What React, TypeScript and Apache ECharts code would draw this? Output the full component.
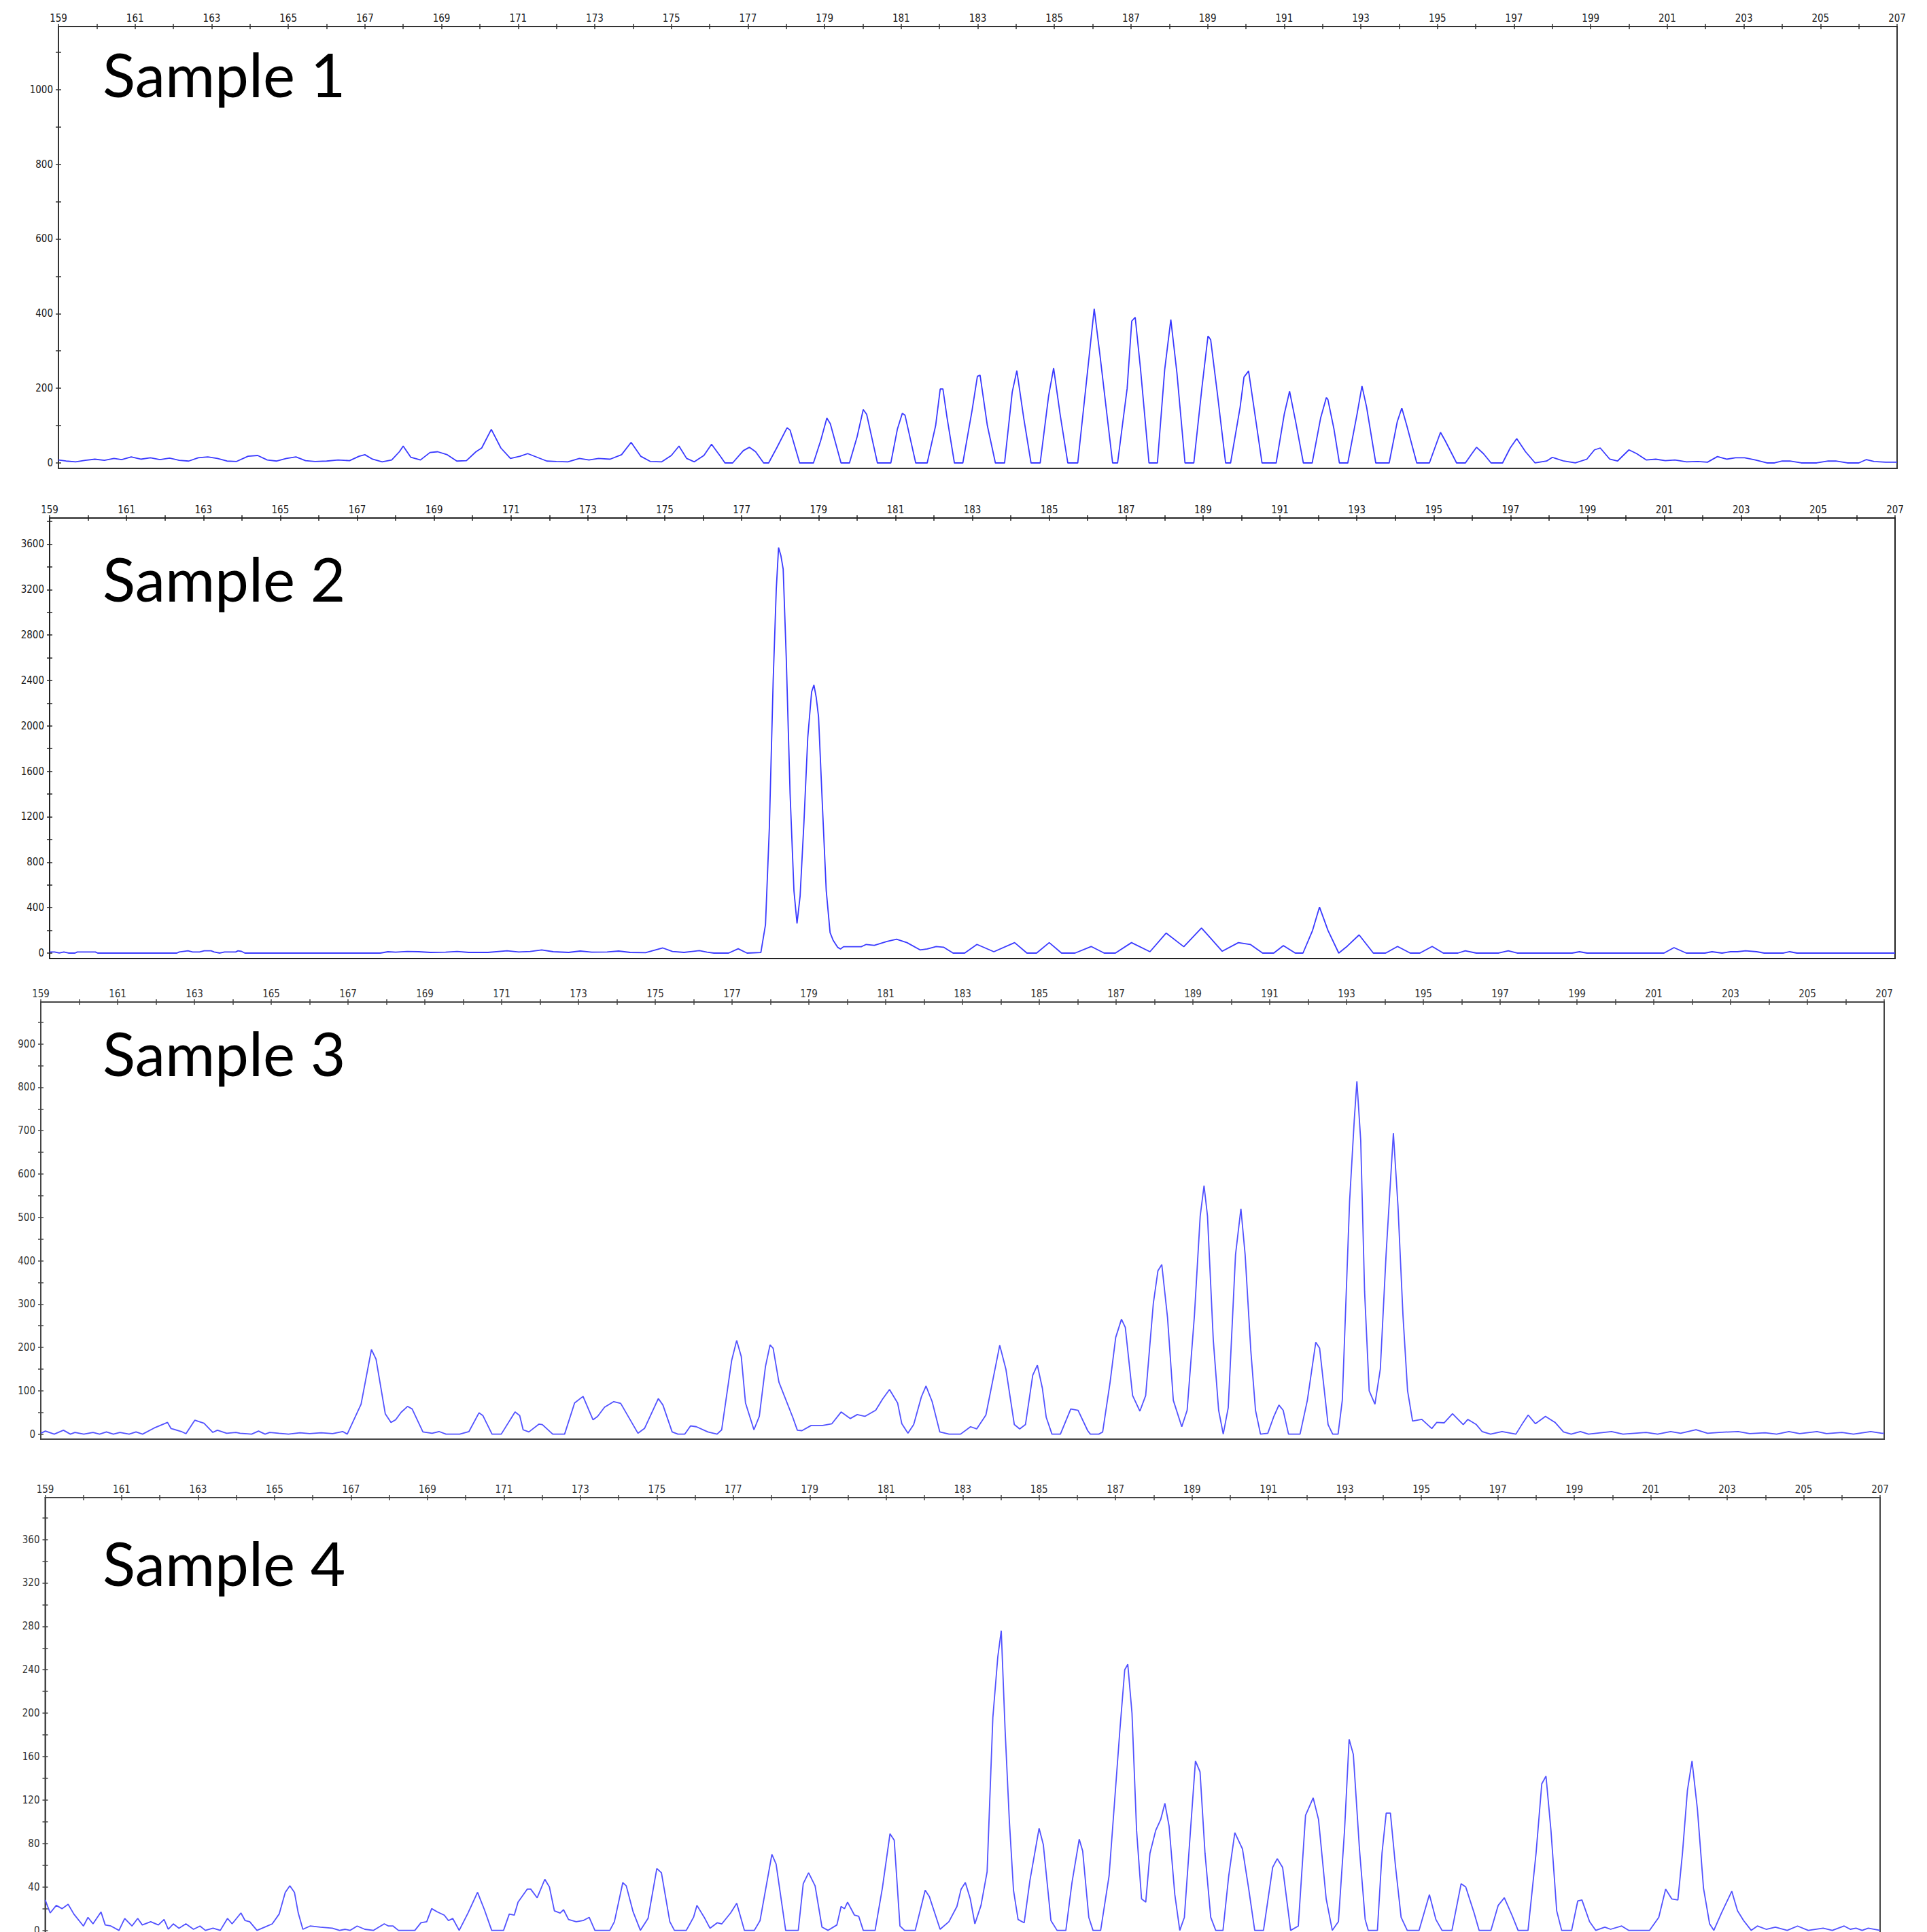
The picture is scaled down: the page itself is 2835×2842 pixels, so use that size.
import React, { useEffect, useRef } from "react";
import * as echarts from "echarts";

// ---------- axis ticks / labels ----------
const BP_MIN = 159;
const BP_MAX = 207;
const BP_LABELS = [159, 161, 163, 165, 167, 169, 171, 173, 175, 177, 179, 181, 183, 185, 187, 189, 191, 193, 195, 197, 199, 201, 203, 205, 207];
const BP_TICKS = [159, 160, 161, 162, 163, 164, 165, 166, 167, 168, 169, 170, 171, 172, 173, 174, 175, 176, 177, 178, 179, 180, 181, 182, 183, 184, 185, 186, 187, 188, 189, 190, 191, 192, 193, 194, 195, 196, 197, 198, 199, 200, 201, 202, 203, 204, 205, 206, 207];

const TITLES = ["Sample 1", "Sample 2", "Sample 3", "Sample 4"];

const Y_LABELS_1 = [0, 200, 400, 600, 800, 1000];
const Y_TICKS_1 = [0, 100, 200, 300, 400, 500, 600, 700, 800, 900, 1000, 1100];
const Y_LABELS_2 = [0, 400, 800, 1200, 1600, 2000, 2400, 2800, 3200, 3600];
const Y_TICKS_2 = [0, 200, 400, 600, 800, 1000, 1200, 1400, 1600, 1800, 2000, 2200, 2400, 2600, 2800, 3000, 3200, 3400, 3600, 3800];
const Y_LABELS_3 = [0, 100, 200, 300, 400, 500, 600, 700, 800, 900];
const Y_TICKS_3 = [0, 50, 100, 150, 200, 250, 300, 350, 400, 450, 500, 550, 600, 650, 700, 750, 800, 850, 900, 950];
const Y_LABELS_4 = [0, 40, 80, 120, 160, 200, 240, 280, 320, 360];
const Y_TICKS_4 = [0, 20, 40, 60, 80, 100, 120, 140, 160, 180, 200, 220, 240, 260, 280, 300, 320, 340, 360, 380];

// ---------- traces: [size (bp), signal] ----------
const SAMPLE_1 = [
  [159.0, 8], [159.2, 5], [159.45, 3], [159.7, 7], [159.95, 10], [160.2, 7], [160.45, 12], [160.65, 9], [160.9, 16], [161.15, 10],
  [161.4, 14], [161.65, 9], [161.9, 13], [162.15, 7], [162.4, 5], [162.65, 14], [162.9, 16], [163.15, 12], [163.4, 5], [163.65, 4],
  [163.95, 18], [164.2, 20], [164.45, 8], [164.7, 5], [164.95, 12], [165.2, 16], [165.45, 6], [165.7, 4], [166.0, 5], [166.3, 8],
  [166.6, 6], [166.85, 18], [167.0, 22], [167.2, 10], [167.45, 3], [167.7, 8], [167.9, 30], [168.0, 45], [168.2, 15], [168.45, 8],
  [168.7, 28], [168.9, 30], [169.15, 22], [169.4, 5], [169.65, 6], [169.9, 30], [170.05, 40], [170.3, 90], [170.55, 40], [170.8, 12],
  [171.05, 18], [171.25, 25], [171.5, 15], [171.75, 5], [172.0, 4], [172.3, 3], [172.6, 12], [172.85, 8], [173.1, 12], [173.4, 10],
  [173.7, 22], [173.95, 55], [174.2, 18], [174.45, 4], [174.75, 3], [175.0, 20], [175.2, 45], [175.4, 12], [175.6, 3], [175.85, 20],
  [176.05, 50], [176.3, 15], [176.4, 0], [176.6, 0], [176.88, 33], [177.04, 42], [177.2, 30], [177.41, 0], [177.54, 0], [177.75, 40],
  [178.02, 94], [178.1, 88], [178.35, 0], [178.71, 0], [178.9, 60], [179.06, 120], [179.15, 105], [179.43, 0], [179.65, 0], [179.85, 70],
  [180.01, 143], [180.1, 130], [180.38, 0], [180.73, 0], [180.9, 90], [181.03, 133], [181.1, 128], [181.38, 0], [181.68, 0], [181.9, 100],
  [182.02, 198], [182.09, 198], [182.2, 120], [182.39, 0], [182.61, 0], [182.85, 140], [182.99, 232], [183.06, 235], [183.25, 100], [183.46, 0],
  [183.7, 0], [183.9, 190], [184.02, 247], [184.2, 120], [184.39, 0], [184.63, 0], [184.85, 180], [184.98, 254], [185.15, 130], [185.35, 0],
  [185.61, 0], [185.85, 230], [186.04, 413], [186.2, 280], [186.52, 0], [186.65, 0], [186.9, 200], [187.02, 380], [187.11, 390], [187.25, 250],
  [187.47, 0], [187.69, 0], [187.88, 250], [188.04, 384], [188.2, 240], [188.41, 0], [188.64, 0], [188.85, 200], [189.01, 340], [189.08, 330],
  [189.25, 190], [189.47, 0], [189.6, 0], [189.85, 150], [189.95, 230], [190.07, 246], [190.25, 120], [190.42, 0], [190.79, 0], [191.0, 130],
  [191.14, 192], [191.3, 110], [191.5, 0], [191.73, 0], [191.95, 120], [192.1, 175], [192.14, 170], [192.3, 90], [192.44, 0], [192.66, 0],
  [192.9, 130], [193.03, 206], [193.15, 150], [193.39, 0], [193.74, 0], [193.95, 110], [194.07, 147], [194.2, 100], [194.46, 0], [194.79, 0],
  [195.08, 82], [195.2, 60], [195.5, 0], [195.73, 0], [195.9, 25], [196.02, 42], [196.2, 25], [196.4, 0], [196.7, 0], [196.9, 40],
  [197.07, 65], [197.3, 30], [197.55, 0], [197.85, 5], [198.0, 15], [198.3, 5], [198.6, 0], [198.9, 10], [199.1, 35], [199.25, 40],
  [199.5, 10], [199.7, 5], [200.0, 35], [200.2, 25], [200.45, 8], [200.7, 10], [200.95, 6], [201.2, 8], [201.5, 3], [201.8, 4],
  [202.05, 2], [202.31, 17], [202.55, 10], [202.78, 14], [203.02, 14], [203.3, 8], [203.6, 0], [203.8, 0], [204.0, 5], [204.2, 5],
  [204.5, 0], [204.9, 0], [205.2, 5], [205.4, 5], [205.7, 0], [206.0, 0], [206.2, 9], [206.4, 4], [206.7, 2], [207.0, 2],
];

const SAMPLE_2 = [
  [159.0, 10], [159.13, 10], [159.25, 0], [159.37, 10], [159.49, 0], [159.66, 0], [159.72, 10], [160.19, 10], [160.25, 0], [162.31, 0],
  [162.37, 10], [162.6, 20], [162.72, 10], [162.9, 10], [163.02, 20], [163.2, 20], [163.28, 10], [163.43, 0], [163.55, 10], [163.84, 10],
  [163.9, 20], [163.99, 15], [164.08, 0], [167.6, 0], [167.8, 12], [168.0, 8], [168.3, 14], [168.6, 12], [168.9, 6], [169.3, 8],
  [169.6, 14], [169.9, 6], [170.4, 6], [170.9, 20], [171.2, 10], [171.5, 14], [171.8, 28], [172.1, 12], [172.5, 6], [172.8, 18],
  [173.1, 8], [173.5, 10], [173.8, 18], [174.1, 6], [174.5, 4], [174.95, 45], [175.2, 14], [175.5, 6], [175.9, 22], [176.1, 8],
  [176.28, 0], [176.66, 0], [176.91, 38], [177.14, 0], [177.5, 5], [177.62, 250], [177.72, 1100], [177.82, 2400], [177.9, 3200], [177.96, 3570],
  [178.02, 3500], [178.08, 3380], [178.16, 2600], [178.26, 1400], [178.36, 550], [178.44, 261], [178.52, 500], [178.62, 1150], [178.72, 1900], [178.82, 2300],
  [178.88, 2360], [178.94, 2250], [179.0, 2080], [179.1, 1300], [179.2, 550], [179.3, 180], [179.38, 112], [179.5, 50], [179.57, 36], [179.65, 56],
  [180.11, 56], [180.24, 76], [180.45, 68], [180.78, 102], [181.03, 122], [181.3, 92], [181.64, 28], [181.83, 36], [182.06, 58], [182.25, 52],
  [182.5, 0], [182.8, 0], [183.12, 76], [183.56, 12], [184.1, 92], [184.42, 0], [184.67, 0], [185.0, 92], [185.32, 0], [185.67, 0],
  [186.09, 58], [186.43, 0], [186.72, 0], [187.14, 92], [187.62, 12], [188.04, 176], [188.5, 56], [188.96, 221], [189.5, 16], [189.92, 92],
  [190.23, 76], [190.55, 0], [190.84, 0], [191.09, 66], [191.4, 0], [191.6, 0], [191.85, 200], [192.03, 405], [192.25, 200], [192.53, 0],
  [192.75, 60], [193.06, 160], [193.43, 0], [193.75, 0], [194.06, 58], [194.39, 0], [194.64, 0], [194.96, 58], [195.25, 0], [195.63, 0],
  [195.82, 20], [196.11, 0], [196.69, 0], [196.94, 20], [197.17, 0], [198.6, 0], [198.79, 12], [198.99, 0], [200.99, 0], [201.25, 48],
  [201.57, 0], [202.05, 0], [202.24, 12], [202.5, 0], [202.72, 12], [202.9, 12], [203.11, 20], [203.4, 12], [203.6, 0], [204.1, 0],
  [204.26, 12], [204.45, 0], [207.0, 0],
];

const SAMPLE_3 = [
  [159.0, 2], [159.12, 7], [159.35, 0], [159.59, 9], [159.77, 0], [159.89, 4], [160.12, 0], [160.36, 4], [160.53, 0], [160.71, 5],
  [160.89, 0], [161.06, 4], [161.3, 0], [161.48, 5], [161.65, 0], [161.95, 14], [162.3, 27], [162.39, 13], [162.66, 6], [162.78, 1],
  [163.01, 32], [163.25, 25], [163.48, 4], [163.6, 9], [163.84, 2], [164.08, 4], [164.19, 2], [164.49, 0], [164.67, 7], [164.84, 0],
  [164.96, 4], [165.2, 2], [165.45, 0], [165.75, 3], [166.0, 1], [166.3, 3], [166.6, 1], [166.86, 6], [166.98, 0], [167.34, 69],
  [167.61, 195], [167.73, 173], [167.97, 47], [168.12, 27], [168.24, 33], [168.38, 50], [168.55, 64], [168.67, 58], [168.95, 5], [169.19, 2],
  [169.37, 6], [169.55, 0], [169.91, 0], [170.15, 6], [170.41, 49], [170.51, 43], [170.75, 0], [170.99, 0], [171.35, 51], [171.47, 43],
  [171.56, 10], [171.71, 5], [171.97, 23], [172.06, 22], [172.33, 0], [172.64, 0], [172.9, 72], [173.12, 87], [173.38, 33], [173.5, 41],
  [173.68, 62], [173.92, 75], [174.1, 71], [174.55, 2], [174.72, 13], [175.08, 82], [175.2, 67], [175.44, 5], [175.59, 0], [175.77, 0],
  [175.92, 19], [176.07, 17], [176.37, 5], [176.61, 0], [176.73, 10], [176.99, 170], [177.12, 216], [177.24, 179], [177.35, 72], [177.57, 10],
  [177.71, 41], [177.87, 156], [177.99, 206], [178.07, 198], [178.22, 120], [178.58, 39], [178.7, 9], [178.82, 8], [179.06, 20], [179.36, 20],
  [179.6, 24], [179.84, 51], [180.08, 36], [180.26, 45], [180.46, 41], [180.74, 55], [180.92, 81], [181.1, 103], [181.31, 72], [181.42, 24],
  [181.58, 2], [181.73, 22], [181.93, 86], [182.05, 111], [182.21, 75], [182.41, 5], [182.65, 0], [182.95, 0], [183.21, 17], [183.37, 12],
  [183.61, 44], [183.97, 205], [184.13, 150], [184.35, 22], [184.49, 12], [184.64, 22], [184.83, 136], [184.95, 159], [185.08, 106], [185.18, 39],
  [185.33, 0], [185.55, 0], [185.82, 58], [186.01, 55], [186.26, 8], [186.33, 0], [186.55, 0], [186.65, 5], [186.84, 117], [186.99, 223],
  [187.14, 265], [187.24, 246], [187.43, 89], [187.62, 53], [187.77, 89], [187.97, 302], [188.09, 377], [188.19, 391], [188.34, 268], [188.49, 78],
  [188.71, 17], [188.85, 55], [189.04, 274], [189.19, 503], [189.29, 573], [189.38, 503], [189.53, 218], [189.67, 55], [189.79, 0], [189.92, 61],
  [190.11, 414], [190.25, 520], [190.36, 414], [190.51, 190], [190.63, 55], [190.76, 0], [190.95, 2], [191.1, 39], [191.24, 67], [191.35, 55],
  [191.49, 0], [191.79, 0], [191.98, 78], [192.2, 212], [192.3, 198], [192.52, 22], [192.64, 0], [192.78, 0], [192.89, 78], [193.08, 537],
  [193.2, 722], [193.27, 814], [193.37, 677], [193.47, 330], [193.59, 100], [193.74, 69], [193.88, 150], [194.03, 414], [194.22, 694], [194.34, 526],
  [194.47, 274], [194.59, 100], [194.72, 30], [194.96, 34], [195.22, 13], [195.35, 27], [195.54, 26], [195.76, 47], [196.04, 22], [196.16, 34],
  [196.38, 22], [196.53, 6], [196.75, 0], [197.05, 6], [197.41, 0], [197.6, 27], [197.73, 44], [197.92, 24], [198.18, 41], [198.43, 27],
  [198.65, 5], [198.85, 0], [199.09, 6], [199.3, 0], [199.9, 6], [200.2, 0], [200.8, 4], [201.1, 0], [201.44, 6], [201.7, 2],
  [202.1, 10], [202.4, 2], [202.7, 4], [203.2, 6], [203.5, 1], [203.9, 3], [204.2, 0], [204.52, 6], [204.8, 1], [205.25, 6],
  [205.5, 1], [205.9, 4], [206.2, 0], [206.65, 6], [206.94, 2], [207.0, 2],
];

const SAMPLE_4 = [
  [159.0, 28], [159.13, 16], [159.29, 23], [159.44, 20], [159.6, 24], [159.75, 15], [160.0, 4], [160.12, 12], [160.25, 6], [160.46, 17],
  [160.57, 5], [160.72, 4], [160.93, 0], [161.08, 11], [161.27, 4], [161.42, 11], [161.54, 5], [161.76, 8], [161.96, 5], [162.11, 10],
  [162.22, 1], [162.35, 6], [162.5, 2], [162.68, 6], [162.88, 1], [163.05, 4], [163.19, 0], [163.39, 2], [163.58, 0], [163.77, 11],
  [163.89, 6], [164.12, 16], [164.23, 9], [164.35, 8], [164.54, 0], [164.74, 3], [164.94, 6], [165.12, 15], [165.28, 35], [165.4, 41],
  [165.52, 35], [165.62, 16], [165.74, 1], [165.93, 4], [166.2, 3], [166.51, 2], [166.7, 0], [166.85, 1], [166.98, 0], [167.16, 4],
  [167.36, 1], [167.59, 0], [167.87, 6], [167.98, 4], [168.1, 4], [168.24, 0], [168.67, 0], [168.83, 7], [168.98, 8], [169.11, 20],
  [169.26, 17], [169.44, 14], [169.55, 9], [169.66, 11], [169.83, 0], [170.06, 16], [170.31, 35], [170.49, 19], [170.68, 0], [170.99, 0],
  [171.14, 15], [171.27, 14], [171.37, 26], [171.61, 38], [171.7, 38], [171.87, 30], [172.07, 47], [172.19, 40], [172.32, 18], [172.47, 16],
  [172.56, 19], [172.69, 10], [172.89, 8], [173.07, 9], [173.23, 12], [173.38, 0], [173.77, 0], [173.89, 8], [174.11, 44], [174.2, 41],
  [174.38, 17], [174.57, 0], [174.77, 11], [175.0, 57], [175.12, 53], [175.34, 8], [175.46, 0], [175.77, 0], [175.96, 12], [176.05, 23],
  [176.24, 12], [176.39, 2], [176.58, 7], [176.7, 6], [176.93, 16], [177.09, 25], [177.29, 0], [177.55, 0], [177.7, 9], [178.01, 70],
  [178.12, 61], [178.37, 0], [178.7, 0], [178.83, 43], [178.97, 53], [179.14, 41], [179.32, 3], [179.48, 0], [179.71, 5], [179.82, 22],
  [179.91, 20], [179.99, 26], [180.17, 14], [180.28, 13], [180.4, 0], [180.71, 0], [180.9, 39], [181.1, 89], [181.21, 83], [181.36, 4],
  [181.48, 0], [181.76, 0], [182.02, 37], [182.13, 31], [182.41, 1], [182.64, 8], [182.85, 22], [182.96, 38], [183.07, 44], [183.2, 29],
  [183.32, 6], [183.48, 23], [183.64, 54], [183.79, 196], [183.92, 252], [184.01, 276], [184.11, 185], [184.22, 102], [184.33, 37], [184.45, 10],
  [184.61, 7], [184.76, 46], [185.0, 94], [185.11, 79], [185.31, 9], [185.47, 0], [185.7, 0], [185.86, 44], [186.05, 84], [186.14, 73],
  [186.3, 12], [186.41, 0], [186.61, 0], [186.83, 50], [187.11, 183], [187.24, 240], [187.32, 245], [187.43, 200], [187.55, 92], [187.68, 29],
  [187.79, 26], [187.9, 71], [188.05, 92], [188.18, 102], [188.29, 117], [188.4, 96], [188.55, 33], [188.68, 0], [188.8, 12], [188.96, 92],
  [189.09, 156], [189.21, 146], [189.34, 71], [189.49, 12], [189.62, 0], [189.81, 0], [189.96, 50], [190.12, 90], [190.32, 75], [190.48, 39],
  [190.64, 0], [190.87, 0], [191.11, 58], [191.23, 66], [191.37, 58], [191.58, 0], [191.78, 4], [191.97, 106], [192.17, 122], [192.31, 102],
  [192.51, 29], [192.67, 0], [192.83, 8], [192.99, 92], [193.11, 176], [193.22, 162], [193.38, 75], [193.53, 10], [193.61, 0], [193.85, 0],
  [193.97, 71], [194.08, 108], [194.19, 108], [194.32, 60], [194.47, 12], [194.63, 0], [194.94, 0], [195.21, 33], [195.38, 10], [195.54, 0],
  [195.8, 0], [196.04, 43], [196.16, 40], [196.38, 16], [196.51, 0], [196.82, 0], [197.01, 23], [197.17, 30], [197.37, 14], [197.53, 0],
  [197.79, 0], [198.0, 71], [198.15, 135], [198.26, 142], [198.39, 92], [198.54, 18], [198.67, 0], [198.93, 0], [199.09, 27], [199.2, 28],
  [199.4, 8], [199.56, 0], [199.8, 3], [199.95, 1], [200.24, 4], [200.42, 0], [200.97, 0], [201.21, 12], [201.39, 38], [201.55, 29],
  [201.71, 28], [201.83, 71], [201.96, 129], [202.08, 156], [202.22, 112], [202.38, 39], [202.54, 6], [202.65, 0], [202.85, 16], [203.12, 36],
  [203.27, 18], [203.43, 9], [203.63, 0], [203.79, 4], [204.02, 1], [204.26, 3], [204.57, 0], [204.84, 4], [205.12, 0], [205.51, 2],
  [205.75, 0], [206.06, 4], [206.22, 1], [206.37, 2], [206.53, 0], [206.69, 2], [207.0, 0],
];

const SAMPLES = [SAMPLE_1, SAMPLE_2, SAMPLE_3, SAMPLE_4];
const Y_LABELS = [Y_LABELS_1, Y_LABELS_2, Y_LABELS_3, Y_LABELS_4];
const Y_TICKS = [Y_TICKS_1, Y_TICKS_2, Y_TICKS_3, Y_TICKS_4];

// ---------- layout (pixels) ----------
const PANELS = [
  { left: 86, top: 39, width: 2705, height: 650, yMin: -14.6, yMax: 1168.8, titleTop: 64, axis: "#333", text: "#1a1a1a", line: "#3a3aff" },
  { left: 73, top: 762, width: 2715, height: 648, yMin: -47.9, yMax: 3830, titleTop: 806, axis: "#222", text: "#1a1a1a", line: "#3a3aff" },
  { left: 60, top: 1474, width: 2712, height: 643, yMin: -11.6, yMax: 996.7, titleTop: 1504, axis: "#444", text: "#333", line: "#5252ff" },
  { left: 66.5, top: 2203, width: 2699.5, height: 644, yMin: -4.63, yMax: 398.5, titleTop: 2254, axis: "#444", text: "#333", line: "#5252ff" },
];

const TICK_FONT = "'Liberation Sans Narrow', 'DejaVu Sans Condensed', 'Liberation Sans', Arial, sans-serif";
const plain = (v: number) => String(v);

function buildOption() {
  const grid: any[] = [];
  const xAxis: any[] = [];
  const yAxis: any[] = [];
  const series: any[] = [];
  const graphic: any[] = [];

  PANELS.forEach((p, i) => {
    grid.push({
      left: p.left, top: p.top, width: p.width, height: p.height,
      show: true, borderColor: p.axis, borderWidth: 2, backgroundColor: "transparent",
      containLabel: false, outerBoundsMode: "none",
    });
    const tickStyle = { color: p.axis, width: 1.5 };
    xAxis.push({
      gridIndex: i, type: "value", position: "top", min: BP_MIN, max: BP_MAX,
      axisLine: { show: true, onZero: false, lineStyle: { color: p.axis, width: 2 } },
      axisTick: { show: true, inside: false, length: 4, customValues: BP_TICKS, lineStyle: tickStyle },
      axisLabel: { show: true, customValues: BP_LABELS, formatter: plain, margin: 5, fontSize: 15, fontFamily: TICK_FONT, color: p.text },
      splitLine: { show: false },
    });
    xAxis.push({
      gridIndex: i, type: "value", position: "top", min: BP_MIN, max: BP_MAX,
      axisLine: { show: false, onZero: false },
      axisTick: { show: true, inside: true, length: 4, customValues: BP_TICKS, lineStyle: tickStyle },
      axisLabel: { show: false },
      splitLine: { show: false },
    });
    yAxis.push({
      gridIndex: i, type: "value", position: "left", min: p.yMin, max: p.yMax,
      axisLine: { show: true, onZero: false, lineStyle: { color: p.axis, width: 2 } },
      axisTick: { show: true, inside: false, length: 4, customValues: Y_TICKS[i], lineStyle: tickStyle },
      axisLabel: { show: true, customValues: Y_LABELS[i], formatter: plain, margin: 8, fontSize: 15, fontFamily: TICK_FONT, color: p.text },
      splitLine: { show: false },
    });
    yAxis.push({
      gridIndex: i, type: "value", position: "left", min: p.yMin, max: p.yMax,
      axisLine: { show: false, onZero: false },
      axisTick: { show: true, inside: true, length: 4, customValues: Y_TICKS[i], lineStyle: tickStyle },
      axisLabel: { show: false },
      splitLine: { show: false },
    });
    series.push({
      type: "line",
      xAxisIndex: i * 2,
      yAxisIndex: i * 2,
      data: SAMPLES[i],
      showSymbol: false,
      symbol: "none",
      clip: true,
      silent: true,
      lineStyle: { color: p.line, width: 1.8 },
    });
    graphic.push({
      type: "text",
      left: 151,
      top: p.titleTop,
      style: {
        text: TITLES[i],
        fontFamily: "Lato, 'Open Sans', sans-serif",
        fontSize: 89,
        fill: "#000",
      },
    });
  });

  return { animation: false, backgroundColor: "#fff", grid, xAxis, yAxis, series, graphic };
}

export default function App() {
  const ref = useRef<HTMLDivElement>(null);
  useEffect(() => {
    if (!ref.current) return;
    const chart = echarts.init(ref.current, undefined, { renderer: "svg" });
    chart.setOption(buildOption());
    return () => chart.dispose();
  }, []);
  return (
    <div
      ref={ref}
      style={{ position: "fixed", left: 0, top: 0, width: 2835, height: 2842, background: "#fff" }}
    />
  );
}
